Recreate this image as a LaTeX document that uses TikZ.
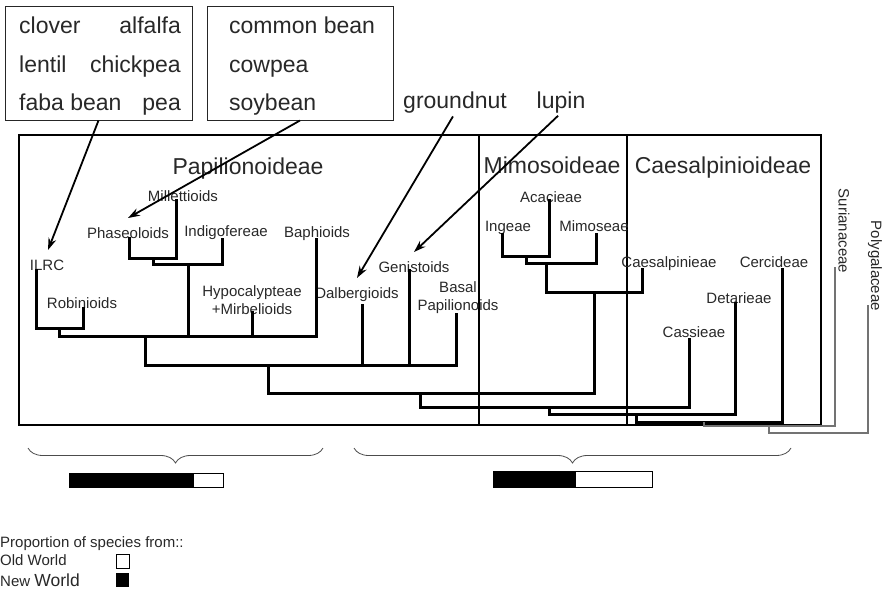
\documentclass[tikz,border=0pt]{standalone}
\usepackage{fontspec}
\setmainfont{Liberation Sans}
\usepackage{tikz}
\usetikzlibrary{arrows.meta,positioning,calc,decorations.pathreplacing}
\definecolor{txtGray}  {RGB}{40, 40, 40}
\definecolor{lineGray} {RGB}{115,115,115}

\begin{document}
\begin{tikzpicture}[x=1pt,y=-1pt,
          tipno/.style={font=\fontsize{15}{18}\selectfont,txtGray,inner sep=1.5pt,anchor=base},
          bigno/.style={font=\fontsize{23}{27}\selectfont,txtGray,inner sep=0pt,anchor=base},
          legno/.style={font=\fontsize{15}{18}\selectfont,txtGray,inner sep=0pt,anchor=base west},
          cropno/.style={draw=black!85,line width=1pt,minimum width=187pt,minimum height=114pt,inner sep=0pt},
          clado/.style={line width=3pt},
          outgr/.style={lineGray,line width=1.1pt},
          frame/.style={line width=1.8pt},
          pointer/.style={-{Stealth[length=12pt,width=8pt]},line width=1.8pt},
          brc/.style={decorate,decoration={brace,mirror,amplitude=15pt},line width=0.8pt,black!70},
        ]
        \useasboundingbox (0,0) rectangle (882,589);

        % CROP BOXES
        \node[cropno](b1) at (98.5,63){};
        \node[bigno,anchor=base west](clov) at (19,33){clover};
        \node[bigno,anchor=base east](alf)  at (181,33){alfalfa};
        \node[bigno,anchor=base west](lent) at (19,72){lentil};
        \node[bigno,anchor=base east](chic) at (181,72){chickpea};
        \node[bigno,anchor=base west](faba) at (19,110){faba bean};
        \node[bigno,anchor=base east](pea)  at (181,110){pea};

        \node[cropno,minimum width=186pt](b2) at (300,63){};
        \node[bigno,anchor=base west](cbean) at (229,33){common bean};
        \node[bigno,anchor=base west](cowp)  at (229,72){cowpea};
        \node[bigno,anchor=base west](soy)   at (229,110){soybean};

        \node[bigno](gnut) at (455,108){groundnut};
        \node[bigno](lup)  at (561,108){lupin};

        % SUBFAMILY FRAMES
        \draw[frame](19,135) rectangle (821,425);
        \draw[frame](479,135)--(479,425)(627,135)--(627,425);
        \node[bigno](pap) at (248,174){Papilionoideae};
        \node[bigno](mim) at (552,173){Mimosoideae};
        \node[bigno](cae) at (723,173){Caesalpinioideae};

        % TIP LABELS
        \node[tipno](ilrc)  at (47,270){ILRC};
        \node[tipno](rob)   at (82,308){Robinioids};
        \node[tipno](phas)  at (128,238){Phaseoloids};
        \node[tipno](mil)   at (183,201){Millettioids};
        \node[tipno](indi)  at (226,236){Indigofereae};
        \node[tipno,anchor=center,align=center](hypo) at (252,300){Hypocalypteae\\+Mirbelioids};
        \node[tipno](baph)  at (317,237){Baphioids};
        \node[tipno](dalb)  at (357,298){Dalbergioids};
        \node[tipno](geni)  at (414,272){Genistoids};
        \node[tipno,anchor=center,align=center](basal) at (458,298){Basal\\Papilionoids};
        \node[tipno](ing)   at (508,231){Ingeae};
        \node[tipno](acac)  at (551,202){Acacieae};
        \node[tipno](mimo)  at (594,231){Mimoseae};
        \node[tipno](caes)  at (669,267){Caesalpinieae};
        \node[tipno](cass)  at (694,337){Cassieae};
        \node[tipno](deta)  at (739,303){Detarieae};
        \node[tipno](cerc)  at (774,267){Cercideae};
        \node[tipno,anchor=center,rotate=-90](suri) at (844,231){Surianaceae};
        \node[tipno,anchor=center,rotate=-90](poly) at (875,266){Polygalaceae};

        % TREE
        \coordinate(ilrcT)  at (36,269);  \coordinate(robT)  at (83,307);
        \coordinate(phasT)  at (129,237); \coordinate(milT)  at (176,199);
        \coordinate(indiT)  at (222,238); \coordinate(hypoT) at (252,311);
        \coordinate(baphT)  at (316,238); \coordinate(dalbT) at (362,304);
        \coordinate(geniT)  at (409,269); \coordinate(basalT) at (456,313);
        \coordinate(ingT)   at (502,233); \coordinate(acacT) at (549,199);
        \coordinate(mimoT)  at (596,233); \coordinate(caesT) at (642,268);
        \coordinate(cassT)  at (689,338); \coordinate(detaT) at (735,302);
        \coordinate(cercT)  at (782,268); \coordinate(suriT) at (835,267);
        \coordinate(polyT)  at (868,305);

        \coordinate(j1)  at (59,328);  \coordinate(j2)  at (153,258);
        \coordinate(j3)  at (188,264); \coordinate(j4)  at (145,336);
        \coordinate(j5)  at (268,365); \coordinate(j6)  at (526,256);
        \coordinate(j7)  at (546,263); \coordinate(j8)  at (594,292);
        \coordinate(j9)  at (420,393); \coordinate(j10) at (549,407);
        \coordinate(j11) at (636,414); \coordinate(j12) at (704,422);
        \coordinate(j13) at (769,426); \coordinate(j14) at (769,433);

        \draw[clado](ilrcT)|-(j1)-|(robT);
        \draw[clado](phasT)|-(j2)-|(milT);
        \draw[clado](j2)|-(j3)-|(indiT);
        \draw[clado](j1)|-(j4)-|(baphT);
        \draw[clado](j3)--(j3|-j4)(hypoT)--(hypoT|-j4);
        \draw[clado](j4)|-(j5)-|(basalT);
        \draw[clado](dalbT)--(dalbT|-j5)(geniT)--(geniT|-j5);
        \draw[clado](ingT)|-(j6)-|(acacT);
        \draw[clado](j6)|-(j7)-|(mimoT);
        \draw[clado](j7)|-(j8)-|(caesT);
        \draw[clado](j5)|-(j9)-|(j8);
        \draw[clado](j9)|-(j10)-|(cassT);
        \draw[clado](j10)|-(j11)-|(detaT);
        \draw[clado](j11)|-(j12)-|(cercT);
        \draw[outgr](j12)|-(j13)-|(suriT);
        \draw[outgr](j13)--(j14)-|(polyT);

        % CROP POINTERS
        \coordinate(ilrcA) at (48,250);  \coordinate(phasA) at (128,218);
        \coordinate(dalbA) at (357,278); \coordinate(geniA) at (414,252);
        \draw[pointer](b1.south)--(ilrcA);
        \draw[pointer](b2.south)--(phasA);
        \draw[pointer,shorten <=4pt](gnut.south)--(dalbA);
        \draw[pointer,shorten <=4pt](lup.south)--(geniA);

        % BRACES AND BARS
        \draw[brc](28,448)--(323,448);
        \draw[brc](354,448)--(791,448);
        \fill(69,473) rectangle (194,487);
        \draw[line width=0.8pt](69,473) rectangle (223,487);
        \fill(493,471) rectangle (576,487);
        \draw[line width=0.8pt](493,471) rectangle (652,487);

        % LEGEND
        \node[legno](prop) at (0,547){Proportion of species from::};
        \node[legno](old)  at (0,565){Old World};
        \node[legno](new)  at (0,586){New {\fontsize{17.5}{20}\selectfont World}};
        \node[draw,line width=0.8pt,minimum width=13pt,minimum height=14pt,inner sep=0pt](oldb) at (122.5,561){};
        \node[fill,minimum width=13pt,minimum height=14pt,inner sep=0pt](newb) at (122.5,580){};
      \end{tikzpicture}
\end{document}
